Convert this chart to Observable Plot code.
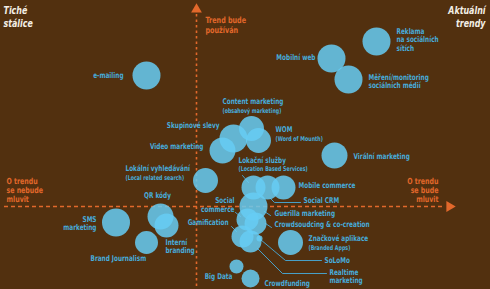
<!DOCTYPE html>
<html>
<head>
<meta charset="utf-8">
<script src="https://cdn.jsdelivr.net/npm/d3@7"></script>
<script src="https://cdn.jsdelivr.net/npm/@observablehq/plot@0.6"></script>
<style>
  html, body { margin: 0; padding: 0; background: #52300f; }
  #chart svg { display: block; }
</style>
</head>
<body>
<div id="chart"></div>
<script>
// ---- data ----
const categories = [
  "e-mailing", "Reklama\nna sociálních\nsítích", "Mobilní web", "Měření/monitoring\nsociálních médií",
  "Content marketing", "Skupinové slevy", "WOM", "Video marketing", "Lokální vyhledávání",
  "Virální marketing", "Lokační služby", "Social CRM", "Mobile commerce", "Social\ncommerce",
  "Guerilla marketing", "Crowdsoudcing & co-creation", "Gamification", "Značkové aplikace",
  "SoLoMo", "Realtime\nmarketing", "Big Data", "Crowdfunding", "QR kódy", "Interní\nbranding",
  "SMS\nmarketing", "Brand Journalism"
];
const subtitles = [
  "", "", "", "", "(obsahový marketing)", "", "(Word of Mounth)", "", "(Local related search)",
  "", "(Location Based Services)", "", "", "", "", "", "", "(Branded Apps)",
  "", "", "", "", "", "", "", ""
];
// how much the trend will be talked about (x) and how much it will be used (y)
const buzz  = [-2.5, 9.0, 6.75, 7.6, 2.75, 1.85, 3.1, 1.3, 0.45, 6.9, 2.85, 3.55, 4.35, 2.55,
               2.85, 2.95, 2.3, 4.7, 3.15, 2.7, 2.0, 2.7, -1.8, -1.5, -4.025, -2.5];
const usage = [6.55, 8.25, 7.4, 6.35, 3.9, 3.4, 3.3, 2.8, 1.3, 2.55, 0.95, 0.95, 0.95, -0.65,
               0, -0.85, -1.5, -1.8, -1.6, -1.75, -3.0, -3.6, -0.5, -0.95, -0.8, -1.8];
const weight = [196, 196, 196, 196, 156, 196, 156, 169, 156, 169, 144, 144, 144, 121,
                196, 121, 121, 156, 9, 121, 49, 81, 169, 144, 196, 132];

const quadrantLabels = ["Tiché\nstálice", "Aktuální\ntrendy"];
const axisLabels = ["Trend bude\npoužíván", "O trendu\nse nebude\nmluvit", "O trendu\nse bude\nmluvit"];

// ---- layout (label placement, px offsets from bubble centre) ----
const labelLayout = [
  {a:"end", dx:-23, dy:0}, {a:"start", dx:20, dy:-2}, {a:"end", dx:-16, dy:-1}, {a:"start", dx:20, dy:2},
  {a:"start", dx:-29, dy:-27, sdy:-18}, {a:"end", dx:-14, dy:-13}, {a:"start", dx:17, dy:-11, sdy:-2},
  {a:"end", dx:-19, dy:-4}, {a:"start", dx:-80, dy:-12, sdy:-3}, {a:"start", dx:19, dy:1},
  {a:"start", dx:-15, dy:-27, sdy:-19, lead:[[-11,-12],[-5,-5]]},
  {a:"start", dx:36, dy:13, lead:[[3,11],[7,15],[33,15]]},
  {a:"start", dx:15, dy:-2},
  {a:"end", dx:-13, dy:-14.5, lead:[[-12,-7],[-7,-3]]},
  {a:"start", dx:21, dy:7, lead:[[11,5],[17,9]]},
  {a:"start", dx:19, dy:1, lead:[[10,0],[16,4]]},
  {a:"end", dx:-14, dy:-14, lead:[[-11,-10],[-6,-5]]},
  {a:"start", dx:18, dy:-4, sdy:5},
  {a:"start", dx:65, dy:22, lead:[[1,1],[26,22],[62,22]]},
  {a:"start", dx:79, dy:35, lead:[[7,7],[32,32],[76,32]]},
  {a:"end", dx:-4, dy:10}, {a:"start", dx:14, dy:5}, {a:"middle", dx:-3, dy:-21},
  {a:"start", dx:-1, dy:21}, {a:"end", dx:-19.5, dy:1}, {a:"start", dx:-56, dy:16}
];

const W = 490, H = 289;
const xDomain = [-9.8, 14.7], yDomain = [-4.15, 10.3];
const sx = d3.scaleLinear(xDomain, [0, W]);
const sy = d3.scaleLinear(yDomain, [H, 0]);

const items = categories.map((c, i) => ({name: c, sub: subtitles[i], x: buzz[i], y: usage[i], w: weight[i], L: labelLayout[i]}));

const blue = "#47acdb";
const orange = "#e2682b";
const white = "#f4efe6";
const font = "'Liberation Sans Narrow', 'DejaVu Sans Condensed', sans-serif";

const marks = [];
// axes
marks.push(Plot.ruleX([0], {y1: sy.invert(14), y2: yDomain[0], stroke: orange, strokeWidth: 1.6, strokeDasharray: "2.5,3"}));
marks.push(Plot.ruleY([0], {x1: sx.invert(4), x2: sx.invert(442), stroke: orange, strokeWidth: 1.6, strokeDasharray: "4,3"}));
marks.push(Plot.dot([{x: 0, y: sy.invert(9)}], {x: "x", y: "y", symbol: "triangle", r: 4, fill: orange, stroke: "none"}));
marks.push(Plot.dot([{x: sx.invert(449), y: 0}], {x: "x", y: "y", symbol: "triangle", r: 4, rotate: 90, fill: orange, stroke: "none"}));

// leader lines
items.forEach(d => {
  if (d.L.lead) {
    const pts = d.L.lead.map(([px, py]) => ({x: sx.invert(sx(d.x) + px), y: sy.invert(sy(d.y) + py)}));
    marks.push(Plot.line(pts, {x: "x", y: "y", stroke: blue, strokeWidth: 0.9}));
  }
});

// bubbles
marks.push(Plot.dot(items, {x: "x", y: "y", r: "w", fill: "#66cdf5", fillOpacity: 0.85, stroke: "none"}));

// labels
items.forEach(d => {
  marks.push(Plot.text([d], {x: "x", y: "y", text: "name", textAnchor: d.L.a, dx: d.L.dx, dy: d.L.dy,
    fill: blue, fontSize: 8, fontWeight: "bold", fontFamily: font, lineHeight: 1.05}));
  if (d.sub) {
    marks.push(Plot.text([d], {x: "x", y: "y", text: "sub", textAnchor: d.L.a, dx: d.L.dx, dy: d.L.sdy,
      fill: blue, fontSize: 6.6, fontWeight: "bold", fontFamily: font}));
  }
});

// quadrant labels
marks.push(Plot.text([quadrantLabels[0]], {x: xDomain[0], y: yDomain[1], text: d => d, textAnchor: "start", lineAnchor: "top",
  dx: 3, dy: 5, fill: white, fontSize: 11, fontStyle: "italic", fontWeight: "bold", fontFamily: font, lineHeight: 1.15}));
marks.push(Plot.text([quadrantLabels[1]], {x: xDomain[1], y: yDomain[1], text: d => d, textAnchor: "end", lineAnchor: "top",
  dx: -5, dy: 5, fill: white, fontSize: 11, fontStyle: "italic", fontWeight: "bold", fontFamily: font, lineHeight: 1.15}));
// axis labels
marks.push(Plot.text([axisLabels[0]], {x: 0, y: yDomain[1], text: d => d, textAnchor: "start", lineAnchor: "top",
  dx: 9, dy: 15, fill: orange, fontSize: 8.5, fontWeight: "bold", fontFamily: font, lineHeight: 1.2}));
marks.push(Plot.text([axisLabels[1]], {x: xDomain[0], y: 0, text: d => d, textAnchor: "start", lineAnchor: "bottom",
  dx: 6, dy: -5, fill: orange, fontSize: 8.3, fontWeight: "bold", fontFamily: font, lineHeight: 1.08}));
marks.push(Plot.text([axisLabels[2]], {x: sx.invert(438), y: 0, text: d => d, textAnchor: "end", lineAnchor: "bottom",
  dx: 0, dy: -5, fill: orange, fontSize: 8.3, fontWeight: "bold", fontFamily: font, lineHeight: 1.08}));

const chart = Plot.plot({
  width: W, height: H,
  margin: 0,
  x: {domain: xDomain, axis: null},
  y: {domain: yDomain, axis: null},
  r: {type: "sqrt", domain: [0, 196], range: [0, 14]},
  style: {background: "#52300f", overflow: "visible"},
  marks
});
// condense the lettering (the original uses a condensed face)
chart.querySelectorAll("text").forEach(t => {
  const f = t.getAttribute("fill") || (t.parentNode && t.parentNode.getAttribute("fill"));
  const k = f === blue ? 0.8 : (f === orange ? 0.84 : 0.8);
  const tr = t.getAttribute("transform") || "";
  t.setAttribute("transform", tr + ` scale(${k},1)`);
});
document.getElementById("chart").append(chart);
</script>
</body>
</html>
